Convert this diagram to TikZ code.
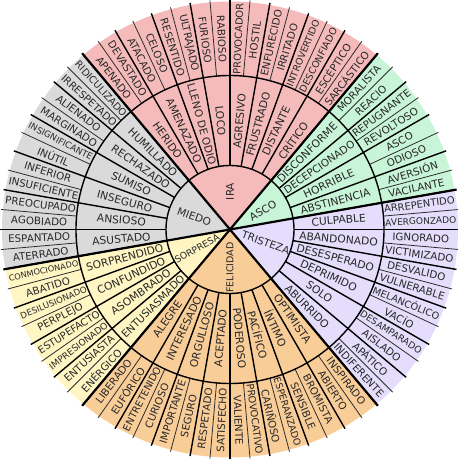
\documentclass[tikz,border=0pt]{standalone}
\usepackage{fontspec}
\setmainfont{DejaVu Sans}
\usepackage{graphicx}
\definecolor{cIra}{RGB}{245,187,187}
\definecolor{cAsco}{RGB}{200,244,216}
\definecolor{cTris}{RGB}{228,221,251}
\definecolor{cFel}{RGB}{249,205,152}
\definecolor{cSor}{RGB}{255,246,196}
\definecolor{cMie}{RGB}{218,218,218}
\definecolor{ink}{RGB}{40,40,40}
\newsavebox\lblbox
\newcommand{\fitw}[2]{\sbox\lblbox{#2}\ifdim\wd\lblbox>#1\relax\resizebox{#1}{!}{\usebox\lblbox}\else\usebox\lblbox\fi}
\tikzset{
  thinline/.style={line width=0.8pt, draw={rgb,255:red,45;green,45;blue,45}},
  midline/.style={line width=1.4pt, draw=black},
  thickline/.style={line width=2.2pt, draw=black},
  lbl/.style={inner sep=0pt, text=ink, anchor=center},
}
\begin{document}
\begin{tikzpicture}
\useasboundingbox (0,0) rectangle (458pt,459pt);
\clip (0,0) rectangle (458pt,459pt);
\begin{scope}[shift={(230pt,229.5pt)}]
% sector fills
\fill[cIra]  (0,0) -- (130:228pt) arc[start angle=130, end angle=50, radius=228pt] -- cycle;
\fill[cAsco] (0,0) -- (50:228pt) arc[start angle=50, end angle=10, radius=228pt] -- cycle;
\fill[cTris] (0,0) -- (10:228pt) arc[start angle=10, end angle=-50, radius=228pt] -- cycle;
\fill[cFel]  (0,0) -- (-50:228pt) arc[start angle=-50, end angle=-130, radius=228pt] -- cycle;
\fill[cSor]  (0,0) -- (-130:228pt) arc[start angle=-130, end angle=-170, radius=228pt] -- cycle;
\fill[cMie]  (0,0) -- (-170:228pt) arc[start angle=-170, end angle=-230, radius=228pt] -- cycle;
% thin separators of the outer ring
\foreach \k in {0,...,35} {
  \pgfmathsetmacro\ang{10*\k+5}
  \draw[thinline] (\ang:154pt) -- (\ang:230pt);
}
% separators of the middle ring
\foreach \k in {0,...,35} {
  \pgfmathsetmacro\ang{10*\k}
  \draw[midline] (\ang:64pt) -- (\ang:230pt);
}
\draw[midline] (0,0) circle[radius=64pt];
\draw[midline] (0,0) circle[radius=154pt];
% core boundaries
\foreach \ang in {130,50,10,-50,-130,-170}
  \draw[thickline] (0,0) -- (\ang:230pt);
% core labels
\foreach \ang/\txt [count=\i] in {90/IRA, 30/ASCO, -20/TRISTEZA, -90/FELICIDAD, -150/SORPRESA, 160/MIEDO} {
  \pgfmathsetmacro\rot{(\ang>90 || \ang<=-90) ? \ang+180 : \ang}
  \node[lbl, rotate=\rot, font=\fontsize{10.5}{12}\selectfont] (c\i) at (\ang:38pt) {\fitw{50pt}{\txt}};
}
% middle labels
\foreach \ang/\txt [count=\i] in {
  125/HERIDO, 115/AMENAZADO, 105/LLENO DE ODIO, 95/LOCO, 85/AGRESIVO, 75/FRUSTRADO, 65/DISTANTE, 55/CRÍTICO,
  45/DISCONFORME, 35/DECEPCIONADO, 25/HORRIBLE, 15/ABSTINENCIA,
  5/CULPABLE, -5/ABANDONADO, -15/DESESPERADO, -25/DEPRIMIDO, -35/SOLO, -45/ABURRIDO,
  -55/OPTIMISTA, -65/ÍNTIMO, -75/PACÍFICO, -85/PODEROSO, -95/ACEPTADO, -105/ORGULLOSO, -115/INTERESADO, -125/ALEGRE,
  -135/ENTUSIASMADO, -145/ASOMBRADO, -155/CONFUNDIDO, -165/SORPRENDIDO,
  185/ASUSTADO, 175/ANSIOSO, 165/INSEGURO, 155/SUMISO, 145/RECHAZADO, 135/HUMILLADO} {
  \pgfmathsetmacro\rot{(\ang>90 || \ang<=-90) ? \ang+180 : \ang}
  \node[lbl, rotate=\rot, font=\fontsize{10.7}{12}\selectfont] (m\i) at (\ang:109pt) {\fitw{84pt}{\txt}};
}
% outer labels
\foreach \ang/\txt [count=\i] in {
  127.5/APENADO, 122.5/DEVASTADO, 117.5/ATACADO, 112.5/CELOSO, 107.5/RESENTIDO, 102.5/ULTRAJADO, 97.5/FURIOSO, 92.5/RABIOSO,
  87.5/PROVOCADOR, 82.5/HOSTIL, 77.5/ENFURECIDO, 72.5/IRRITADO, 67.5/INTROVERTIDO, 62.5/DESCONFIADO, 57.5/ESCÉPTICO, 52.5/SARCÁSTICO,
  47.5/MORALISTA, 42.5/REACIO, 37.5/REPUGNANTE, 32.5/REVOLTOSO, 27.5/ASCO, 22.5/ODIOSO, 17.5/AVERSIÓN, 12.5/VACILANTE,
  7.5/ARREPENTIDO, 2.5/AVERGONZADO, -2.5/IGNORADO, -7.5/VICTIMIZADO, -12.5/DESVALIDO, -17.5/VULNERABLE,
  -22.5/MELANCÓLICO, -27.5/VACÍO, -32.5/DESAMPARADO, -37.5/AISLADO, -42.5/APÁTICO, -47.5/INDIFERENTE,
  -52.5/INSPIRADO, -57.5/ABIERTO, -62.5/BROMISTA, -67.5/SENSIBLE, -72.5/ESPERANZADO, -77.5/CARIÑOSO, -82.5/PROVOCATIVO, -87.5/VALIENTE,
  -92.5/SATISFECHO, -97.5/RESPETADO, -102.5/SEGURO, -107.5/IMPORTANTE, -112.5/CURIOSO, -117.5/ENTRETENIDO, -122.5/EUFÓRICO, -127.5/LIBERADO,
  -132.5/ENÉRGICO, -137.5/ENTUSIASTA, -142.5/IMPRESIONADO, -147.5/ESTUPEFACTO, -152.5/PERPLEJO, -157.5/DESILUSIONADO, -162.5/ABATIDO, -167.5/CONMOCIONADO,
  187.5/ATERRADO, 182.5/ESPANTADO, 177.5/AGOBIADO, 172.5/PREOCUPADO, 167.5/INSUFICIENTE, 162.5/INFERIOR,
  157.5/INÚTIL, 152.5/INSIGNIFICANTE, 147.5/MARGINADO, 142.5/ALIENADO, 137.5/IRRESPETADO, 132.5/RIDICULIZADO} {
  \pgfmathsetmacro\rot{(\ang>90 || \ang<=-90) ? \ang+180 : \ang}
  \node[lbl, rotate=\rot, font=\fontsize{10.3}{12}\selectfont] (o\i) at (\ang:191pt) {\fitw{71pt}{\txt}};
}
\end{scope}
\end{tikzpicture}
\end{document}
